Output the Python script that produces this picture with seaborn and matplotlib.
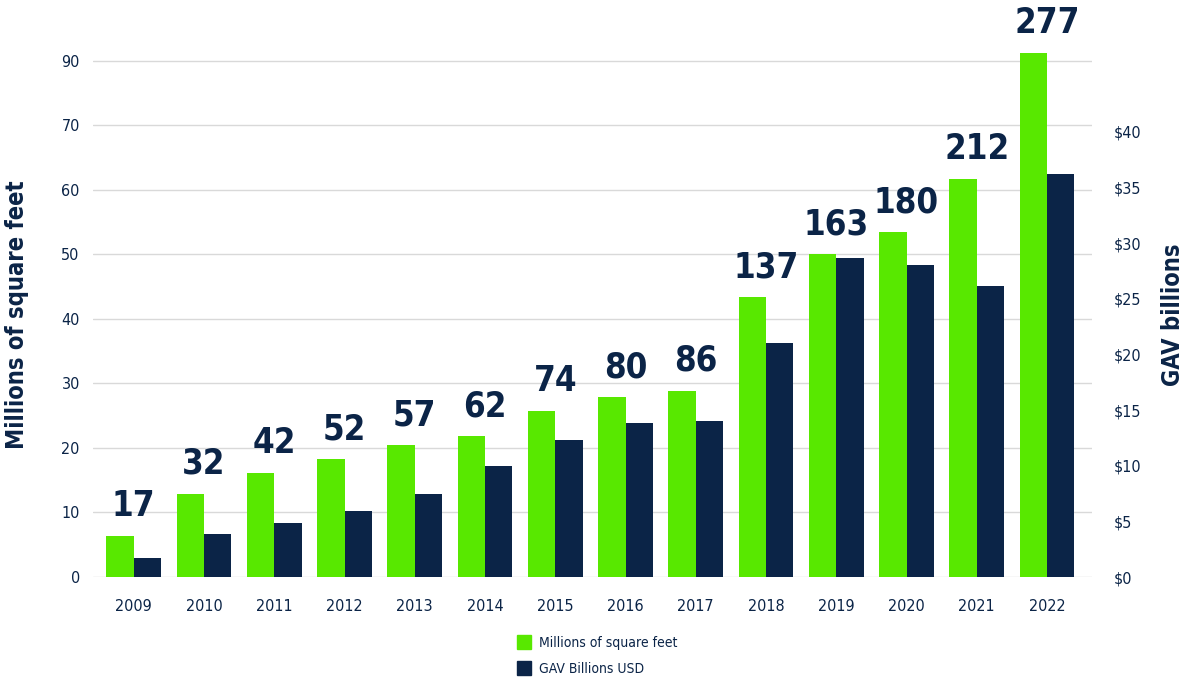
import pandas as pd
import matplotlib.pyplot as plt
import matplotlib.patches as mpatches
import seaborn as sns

# Data
years = ["2009", "2010", "2011", "2012", "2013", "2014", "2015",
         "2016", "2017", "2018", "2019", "2020", "2021", "2022"]
sqft = [6.3, 12.9, 16.1, 18.3, 20.4, 21.8, 25.8, 27.9, 28.9, 43.4, 50.0, 53.4, 61.7, 81.2]
gav = [1.7, 3.85, 4.85, 5.97, 7.5, 10.0, 12.3, 13.85, 14.0, 21.0, 28.7, 28.0, 26.2, 36.2]
top_labels = [17, 32, 42, 52, 57, 62, 74, 80, 86, 137, 163, 180, 212, 277]
left_ticks = [0, 10, 20, 30, 40, 50, 60, 70, 80]
left_ticklabels = ["0", "10", "20", "30", "40", "50", "60", "70", "90"]
right_ticks = [0, 5, 10, 15, 20, 25, 30, 35, 40]
right_ticklabels = ["$0", "$5", "$10", "$15", "$20", "$25", "$30", "$35", "$40"]

series = ["Millions of square feet", "GAV Billions USD"]
green = "#58e800"
navy = "#0b2447"

sns.set_theme(style="white")
plt.rcParams["font.family"] = ["DejaVu Sans"]
plt.rcParams["font.stretch"] = "condensed"

df = pd.DataFrame({
    "year": years * 2,
    "series": [series[0]] * len(years) + [series[1]] * len(years),
    "value": sqft + gav,
})

fig = plt.figure(figsize=(11.83, 6.77), dpi=100)
ax = fig.add_axes([93 / 1183, 100 / 677, 999 / 1183, 524 / 677])
ax2 = ax.twinx()

# green bars on left axis, navy bars on right axis (same dodge layout)
d1 = df.copy()
d1.loc[d1["series"] == series[1], "value"] = float("nan")
d2 = df.copy()
d2.loc[d2["series"] == series[0], "value"] = float("nan")

sns.barplot(data=d1, x="year", y="value", hue="series", hue_order=series,
            palette=[green, navy], width=0.78, ax=ax, legend=False,
            errorbar=None, saturation=1, linewidth=0)
sns.barplot(data=d2, x="year", y="value", hue="series", hue_order=series,
            palette=[green, navy], width=0.78, ax=ax2, legend=False,
            errorbar=None, saturation=1, linewidth=0)

ax.set_xlim(-0.58, 13.64)
ax.set_ylim(0, 81.2)
ax2.set_ylim(0, 47.1)

ax.set_yticks(left_ticks)
ax.set_yticklabels(left_ticklabels)
ax2.set_yticks(right_ticks)
ax2.set_yticklabels(right_ticklabels)

ax.yaxis.grid(True, color="#d9d9d9", linewidth=1)
ax.set_axisbelow(True)
ax2.grid(False)
for a in (ax, ax2):
    for s in a.spines.values():
        s.set_visible(False)
    a.tick_params(length=0, colors=navy, labelsize=11.5)
ax.tick_params(axis="y", pad=9.5)
ax.tick_params(axis="x", pad=16)
ax2.tick_params(axis="y", pad=16)

ax.set_xlabel("")
ax.set_ylabel("Millions of square feet", fontsize=17, fontweight="bold", color=navy)
ax2.set_ylabel("GAV billions", fontsize=17, fontweight="bold", color=navy)
ax.yaxis.set_label_coords(-0.064, 0.5)
ax2.yaxis.set_label_coords(1.069, 0.5)

# labels above each year
for i, lab in enumerate(top_labels):
    ax.text(i, sqft[i] + 2.0, str(lab), ha="center", va="bottom",
            fontsize=25, fontweight="bold", color=navy)

handles = [mpatches.Patch(color=green, label=series[0]),
           mpatches.Patch(color=navy, label=series[1])]
fig.legend(handles=handles, loc="upper left", bbox_to_anchor=(517 / 1183, 0.062),
           ncol=1, frameon=False, fontsize=10, labelcolor=navy,
           borderpad=0, borderaxespad=0,
           handlelength=1.0, handleheight=1.2, handletextpad=0.6, labelspacing=0.8)

fig.savefig("out.png", dpi=100)
